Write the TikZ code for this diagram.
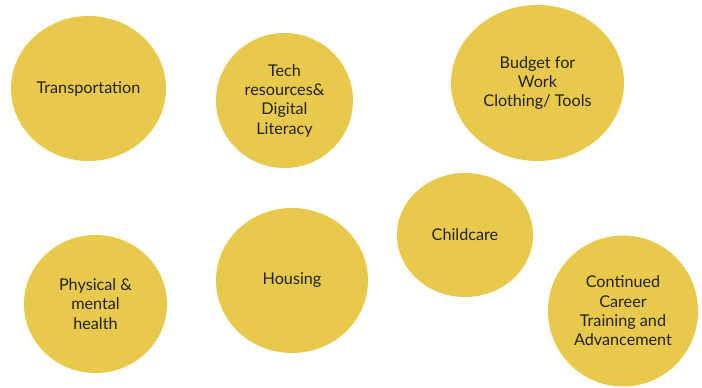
\documentclass[tikz,border=0pt]{standalone}
\usepackage{fontspec}
\setmainfont{Lato}
\usetikzlibrary{shapes.geometric}
\definecolor{gold}{HTML}{E9C94C}
\definecolor{ink}{HTML}{222222}
\tikzset{
  bubble/.style={ellipse, fill=gold, draw=none, inner sep=0pt, align=center,
    text=ink, font=\fontsize{16.2}{19.3}\selectfont}
}
\begin{document}
\begin{tikzpicture}[x=1pt,y=-1pt]
\useasboundingbox (0,0) rectangle (702,388);
\node[bubble, minimum width=155pt, minimum height=145pt] (trans) at (88.5,88.5) {Transportation};
\node[bubble, minimum width=137pt, minimum height=135pt] (tech) at (284.5,100.5) {Tech\\resources\&\\Digital\\Literacy};
\node[bubble, minimum width=173pt, minimum height=156pt] (budget) at (537.5,83) {Budget for\\Work\\Clothing/ Tools};
\node[bubble, minimum width=136pt, minimum height=124pt] (child) at (465,235) {Childcare};
\node[bubble, minimum width=143pt, minimum height=138pt] (phys) at (95.5,304) {Physical \&\\mental\\health};
\node[bubble, minimum width=152pt, minimum height=145pt] (house) at (292,280.5) {Housing};
\node[bubble, minimum width=150pt, minimum height=151pt] (career) at (623,311) {Continued\\Career\\Training and\\Advancement};
\end{tikzpicture}
\end{document}
